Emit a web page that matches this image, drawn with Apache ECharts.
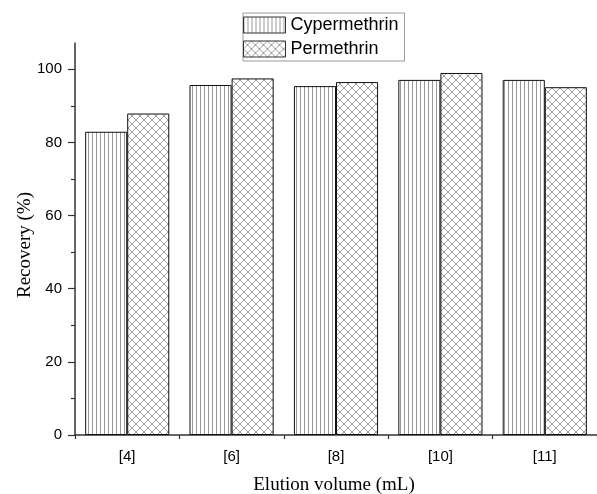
<!DOCTYPE html>
<html>
<head>
<meta charset="utf-8">
<script src="https://cdn.jsdelivr.net/npm/echarts@6/dist/echarts.min.js"></script>
<style>
html,body{margin:0;padding:0;background:#fff;}
#c{width:597px;height:494px;}
</style>
</head>
<body>
<div id="c"></div>
<script>
// ---- data ----
var categories = ['[4]', '[6]', '[8]', '[10]', '[11]'];
var cypermethrin = [83.0, 95.8, 95.5, 97.2, 97.2];
var permethrin = [88.0, 97.6, 96.6, 99.1, 95.2];
var yTicks = [0, 20, 40, 60, 80, 100];

// ---- patterns ----
function vertPattern() {
  var c = document.createElement('canvas');
  c.width = 4; c.height = 4;
  var g = c.getContext('2d');
  g.fillStyle = '#fff'; g.fillRect(0, 0, 4, 4);
  g.fillStyle = '#999999'; g.fillRect(0, 0, 1, 4);
  return c;
}
function crossPattern() {
  var c = document.createElement('canvas');
  c.width = 8; c.height = 8;
  var g = c.getContext('2d');
  g.fillStyle = '#fff'; g.fillRect(0, 0, 8, 8);
  g.strokeStyle = '#a0a0a0'; g.lineWidth = 1;
  g.beginPath();
  g.moveTo(-1, -1); g.lineTo(9, 9);
  g.moveTo(9, -1); g.lineTo(-1, 9);
  g.stroke();
  return c;
}

var chart = echarts.init(document.getElementById('c'), null, {renderer: 'canvas'});
var axisColor = '#333';
var font = 'Liberation Sans, Arial, sans-serif';
var serif = 'Liberation Serif, Times New Roman, serif';

chart.setOption({
  animation: false,
  backgroundColor: '#fff',
  grid: [
    {left: 75, right: 0, top: 43, bottom: 59},
    {left: 75, right: 0, top: 69.3, bottom: 59}
  ],
  legend: {
    data: ['Cypermethrin', 'Permethrin'],
    orient: 'vertical',
    left: 243, top: 13,
    itemWidth: 42, itemHeight: 16, itemGap: 6,
    padding: [3, 6, 3, 0],
    borderColor: '#999', borderWidth: 1,
    icon: 'rect',
    itemStyle: {borderColor: '#333', borderWidth: 1},
    textStyle: {fontSize: 18, fontFamily: font, color: '#000'}
  },
  xAxis: [
    {
      type: 'category', gridIndex: 0, data: categories,
      axisLine: {lineStyle: {color: axisColor, width: 1.5}},
      axisTick: {alignWithLabel: true, length: 7, lineStyle: {color: axisColor, width: 1.2}},
      axisLabel: {fontSize: 15, fontFamily: font, color: '#000', margin: 14},
      splitLine: {show: false}
    },
    {
      type: 'category', gridIndex: 0, data: categories, position: 'bottom',
      axisLine: {show: false},
      axisTick: {show: true, length: 4, lineStyle: {color: axisColor, width: 1.2}},
      axisLabel: {show: false},
      splitLine: {show: false}
    },
    {type: 'value', gridIndex: 1, show: false}
  ],
  yAxis: [
    {
      type: 'value', gridIndex: 0, min: 0, max: 107.3,
      axisLine: {show: true, lineStyle: {color: axisColor, width: 1.5}},
      axisTick: {show: false}, axisLabel: {show: false}, splitLine: {show: false}
    },
    {
      type: 'value', gridIndex: 1, min: yTicks[0], max: yTicks[yTicks.length - 1], interval: 20,
      axisLine: {show: false},
      axisTick: {show: true, length: 7, lineStyle: {color: axisColor, width: 1.2}},
      minorTick: {show: true, splitNumber: 2, length: 4, lineStyle: {color: axisColor, width: 1.2}},
      axisLabel: {fontSize: 15, fontFamily: font, color: '#000', margin: 13},
      splitLine: {show: false}
    }
  ],
  graphic: [
    {type: 'text', x: 25, y: 245, rotation: Math.PI / 2,
     style: {text: 'Recovery (%)', font: '19px ' + serif, fill: '#000', align: 'center', verticalAlign: 'middle'}},
    {type: 'text', x: 334, y: 485,
     style: {text: 'Elution volume (mL)', font: '19px ' + serif, fill: '#000', align: 'center', verticalAlign: 'middle'}}
  ],
  series: [
    {
      name: 'Cypermethrin', type: 'bar', xAxisIndex: 0, yAxisIndex: 0,
      data: cypermethrin, barGap: 0, barCategoryGap: '19.4%',
      itemStyle: {color: {image: vertPattern(), repeat: 'repeat'}, borderColor: '#111', borderWidth: 1}
    },
    {
      name: 'Permethrin', type: 'bar', xAxisIndex: 0, yAxisIndex: 0,
      data: permethrin, barGap: 0, barCategoryGap: '19.4%',
      itemStyle: {color: {image: crossPattern(), repeat: 'repeat'}, borderColor: '#111', borderWidth: 1}
    }
  ]
});
</script>
</body>
</html>
